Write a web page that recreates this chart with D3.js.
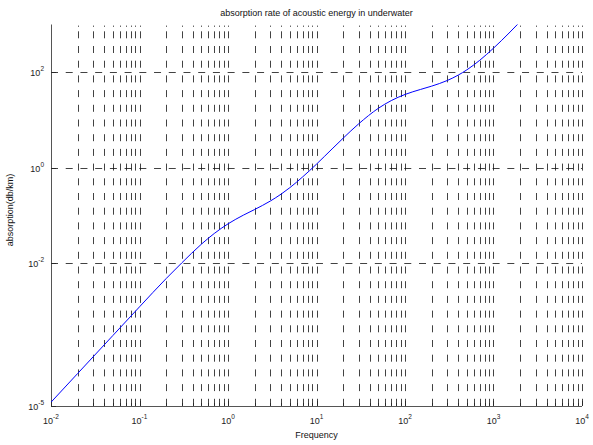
<!DOCTYPE html>
<html>
<head>
<meta charset="utf-8">
<title>absorption rate</title>
<style>
  body { margin: 0; background: #fff; }
  svg { display: block; font-family: "Liberation Sans", Arial, Helvetica, sans-serif; }
</style>
<script src="https://d3js.org/d3.v7.min.js"></script>
</head>
<body>
<svg></svg>
<script>
// values (frequency, absorption in db/km)
const freqs = [0.01, 0.02, 0.05, 0.1, 0.2, 0.3, 0.5, 0.7, 1, 1.5, 2, 3, 4, 5, 7, 10,
               15, 20, 30, 50, 70, 100, 150, 200, 300, 400, 500, 700, 1000, 1500, 2000];
const absorption = [1.2e-5, 4.8e-5, 3.0e-4, 1.2e-3, 4.7e-3, 0.0100, 0.0247, 0.0415, 0.066, 0.101,
                    0.132, 0.198, 0.279, 0.379, 0.641, 1.18, 2.46, 4.13, 8.28, 17.5, 25.4, 34.1,
                    43.5, 51.0, 66.9, 87.0, 112, 178, 319, 663, 1144];
const xTickExps = [-2, -1, 0, 1, 2, 3, 4];
const yTickExps = [-5, -2, 0, 2];

const width = 593, height = 445;
const pLeft = 51, pRight = 582, pTop = 24.5, pBottom = 406;

const svg = d3.select('svg').attr('width', width).attr('height', height);

const x = d3.scaleLog().domain([1e-2, 1e4]).range([pLeft, pRight]);
const y = d3.scaleLog().domain([1e-5, 1e3]).range([pBottom, pTop]);

// minor + major x positions
const xMinor = [];
for (let k = -2; k < 4; k++) {
  for (let m = 2; m <= 9; m++) xMinor.push(m * Math.pow(10, k));
}
const xMajor = xTickExps.map(e => Math.pow(10, e));
const yMajor = yTickExps.map(e => Math.pow(10, e));
const xAll = xMinor.concat(xMajor);

const grid = svg.append('g');

// vertical grid lines (dashed)
grid.selectAll('line.v')
  .data(xAll)
  .enter().append('line')
  .attr('x1', d => Math.round(x(d)) + 0.5)
  .attr('x2', d => Math.round(x(d)) + 0.5)
  .attr('y1', pTop)
  .attr('y2', pBottom)
  .attr('stroke', '#111')
  .attr('stroke-width', 0.8)
  .attr('stroke-dasharray', '7,7.7')
  .attr('stroke-dashoffset', 7.9);

// little dots at top of each grid line
grid.selectAll('line.dot')
  .data(xAll)
  .enter().append('line')
  .attr('x1', d => Math.round(x(d)) + 0.5)
  .attr('x2', d => Math.round(x(d)) + 0.5)
  .attr('y1', pTop + 1)
  .attr('y2', pTop + 2.5)
  .attr('stroke', '#444')
  .attr('stroke-width', 0.8);

// horizontal grid lines
grid.selectAll('line.h')
  .data(yMajor)
  .enter().append('line')
  .attr('x1', pLeft)
  .attr('x2', pRight)
  .attr('y1', d => Math.round(y(d)) + 0.5)
  .attr('y2', d => Math.round(y(d)) + 0.5)
  .attr('stroke', '#111')
  .attr('stroke-width', 0.8)
  .attr('stroke-dasharray', '7,7.72');

// axes lines
svg.append('line')
  .attr('x1', pLeft + 0.5).attr('x2', pLeft + 0.5)
  .attr('y1', pTop).attr('y2', pBottom)
  .attr('stroke', '#555').attr('stroke-width', 1);
svg.append('line')
  .attr('x1', pLeft).attr('x2', pRight)
  .attr('y1', pBottom + 0.5).attr('y2', pBottom + 0.5)
  .attr('stroke', '#555').attr('stroke-width', 1);

// ticks on bottom axis (pointing in)
svg.selectAll('line.xt')
  .data(xMinor.map(d => [d, 3]).concat(xMajor.map(d => [d, 5])))
  .enter().append('line')
  .attr('x1', d => Math.round(x(d[0])) + 0.5)
  .attr('x2', d => Math.round(x(d[0])) + 0.5)
  .attr('y1', pBottom)
  .attr('y2', d => pBottom - d[1])
  .attr('stroke', '#222').attr('stroke-width', 0.8);

// ticks on left axis
svg.selectAll('line.yt')
  .data(yMajor)
  .enter().append('line')
  .attr('x1', pLeft)
  .attr('x2', pLeft + 5)
  .attr('y1', d => Math.round(y(d)) + 0.5)
  .attr('y2', d => Math.round(y(d)) + 0.5)
  .attr('stroke', '#222').attr('stroke-width', 0.8);

// tick labels
const xl = svg.selectAll('text.xl')
  .data(xTickExps)
  .enter().append('text')
  .attr('x', d => x(Math.pow(10, d)))
  .attr('y', 424)
  .attr('text-anchor', 'middle')
  .attr('font-size', 9)
  .attr('fill', '#222');
xl.append('tspan').text('10');
xl.append('tspan').attr('dy', -5).attr('font-size', 6.5).text(d => d);

const yl = svg.selectAll('text.yl')
  .data(yTickExps)
  .enter().append('text')
  .attr('x', pLeft - 7)
  .attr('y', d => y(Math.pow(10, d)) + 4)
  .attr('text-anchor', 'end')
  .attr('font-size', 9)
  .attr('fill', '#222');
yl.append('tspan').text('10');
yl.append('tspan').attr('dy', -5).attr('font-size', 6.5).text(d => d);

// curve
svg.append('clipPath').attr('id', 'plotclip')
  .append('rect')
  .attr('x', pLeft).attr('y', pTop)
  .attr('width', pRight - pLeft).attr('height', pBottom - pTop);

const line = d3.line()
  .x(d => x(d[0]))
  .y(d => y(d[1]))
  .curve(d3.curveMonotoneX);

svg.append('path')
  .datum(freqs.map((f, i) => [f, absorption[i]]))
  .attr('clip-path', 'url(#plotclip)')
  .attr('d', line)
  .attr('fill', 'none')
  .attr('stroke', '#0000ff')
  .attr('stroke-width', 1);

// titles
svg.append('text')
  .attr('x', (pLeft + pRight) / 2)
  .attr('y', 16)
  .attr('text-anchor', 'middle')
  .attr('font-size', 9)
  .attr('fill', '#111')
  .text('absorption rate of acoustic energy in underwater');

svg.append('text')
  .attr('x', (pLeft + pRight) / 2)
  .attr('y', 438)
  .attr('text-anchor', 'middle')
  .attr('font-size', 9)
  .attr('fill', '#111')
  .text('Frequency');

svg.append('text')
  .attr('transform', 'translate(13,' + 210 + ')rotate(-90)')
  .attr('text-anchor', 'middle')
  .attr('font-size', 9)
  .attr('fill', '#111')
  .text('absorption(db/km)');
</script>
</body>
</html>
